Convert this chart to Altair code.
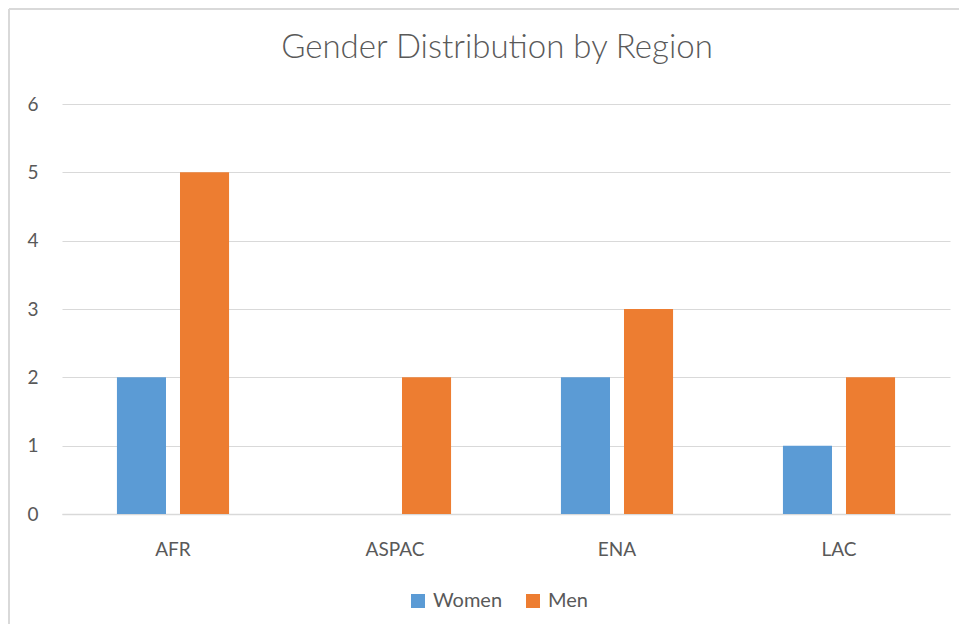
import altair as alt
import pandas as pd

regions = ["AFR", "ASPAC", "ENA", "LAC"]
women = [2, 0, 2, 1]
men = [5, 2, 3, 2]
series = ["Women", "Men"]
colors = ["#5B9BD5", "#ED7D31"]
title_text = "Gender Distribution by Region"

rows = []
for i, r in enumerate(regions):
    rows.append({"Region": r, "Gender": "Women", "Count": women[i]})
    rows.append({"Region": r, "Gender": "Men", "Count": men[i]})
df = pd.DataFrame(rows)

FONT = "Lato"
TXT = "#595959"

bars = alt.Chart(df).mark_bar().encode(
    x=alt.X("Region:N", sort=regions, title=None,
            scale=alt.Scale(paddingInner=0.495, paddingOuter=0.2475),
            axis=alt.Axis(labelAngle=0, labelFontSize=19, labelColor=TXT, labelFont=FONT,
                          labelPadding=26, ticks=False, domainColor="#D9D9D9", domainWidth=1.5,
                          grid=False)),
    xOffset=alt.XOffset("Gender:N", sort=series,
                        scale=alt.Scale(paddingInner=0.222, paddingOuter=0)),
    y=alt.Y("Count:Q", title=None,
            scale=alt.Scale(domain=[0, 6], nice=False),
            axis=alt.Axis(values=[0, 1, 2, 3, 4, 5, 6], labelFontSize=19, labelColor=TXT,
                          labelFont=FONT, labelPadding=24, ticks=False, domain=False,
                          gridColor="#D9D9D9", gridWidth=1.2)),
    color=alt.Color("Gender:N", sort=series,
                    scale=alt.Scale(domain=series, range=colors),
                    legend=alt.Legend(title=None, orient="none", legendX=346, legendY=487,
                                      direction="horizontal", symbolType="square",
                                      symbolSize=196, symbolStrokeWidth=0,
                                      labelFontSize=20, labelColor=TXT, labelFont=FONT,
                                      labelOffset=5, columnPadding=20, padding=0)),
)

title = alt.Chart(pd.DataFrame({"t": [title_text]})).mark_text(
    font=FONT, fontSize=33, fontWeight=300, color=TXT, align="center", baseline="middle"
).encode(text="t:N", x=alt.value(435), y=alt.value(-56))

border_left = alt.Chart(df).mark_rule(color="#D9D9D9", strokeWidth=1.5).encode(
    x=alt.value(-53), y=alt.value(-95), y2=alt.value(520)
)
border_top = alt.Chart(df).mark_rule(color="#D9D9D9", strokeWidth=1.5).encode(
    x=alt.value(-53), x2=alt.value(900), y=alt.value(-95)
)

chart = alt.layer(bars, title, border_left, border_top).properties(
    width=888, height=410,
    autosize=alt.AutoSizeParams(type="none"),
    padding={"left": 54, "top": 96, "right": 9, "bottom": 113},
    view=alt.ViewBackground(strokeOpacity=0, strokeWidth=0),
).configure_view(strokeOpacity=0, strokeWidth=0).configure(background="white")

chart.save("out.html", embed_options={"renderer": "svg", "actions": False})
